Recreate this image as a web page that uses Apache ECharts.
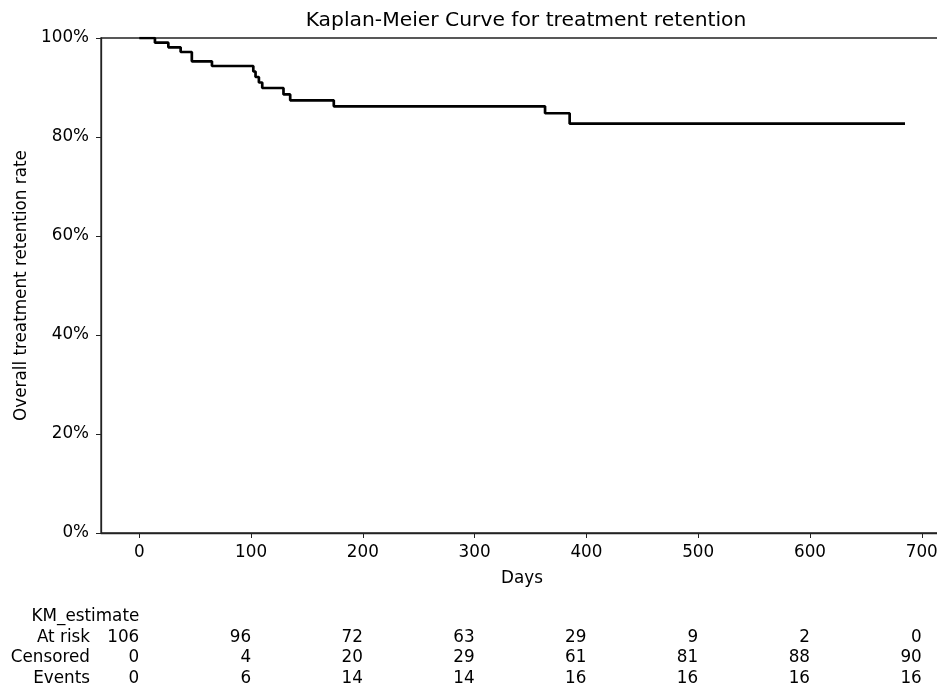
<!DOCTYPE html>
<html>
<head>
<meta charset="utf-8">
<script src="https://cdn.jsdelivr.net/npm/echarts@6/dist/echarts.min.js"></script>
<style>
  html, body { margin: 0; padding: 0; background: #fff; }
  #km { width: 937px; height: 690px; }
</style>
</head>
<body>
<div id="km"></div>
<script>
// KM step points (day, retention)
const days = [0, 14, 26, 37, 47, 65, 102, 104, 107, 110, 129, 135, 174, 363, 385, 685];
const survival = [1.0, 0.9906, 0.9811, 0.9717, 0.9528, 0.9434, 0.9323, 0.9212, 0.9101, 0.899, 0.886, 0.874, 0.862, 0.848, 0.827, 0.827];

// at-risk table under the axis
const tableTicks = [0, 100, 200, 300, 400, 500, 600, 700];
const atRisk = [106, 96, 72, 63, 29, 9, 2, 0];
const censored = [0, 4, 20, 29, 61, 81, 88, 90];
const events = [0, 6, 14, 14, 16, 16, 16, 16];
const rowLabels = ['At risk', 'Censored', 'Events'];

const font = 'DejaVu Sans';
const fs = 16.8;
const rowH = 20.8;
const chart = echarts.init(document.getElementById('km'));

const xMin = -34.25, xMax = 719;

chart.setOption({
  backgroundColor: '#fff',
  animation: false,
  textStyle: { fontFamily: font },
  title: {
    text: 'Kaplan-Meier Curve for treatment retention',
    left: 521,
    top: 6,
    textAlign: 'center',
    textStyle: { fontFamily: font, fontSize: 20.3, fontWeight: 'normal', color: '#000' }
  },
  // plot box runs past the right edge of the picture, like the reference
  grid: {
    left: 101, top: 38, width: 842, height: 495,
    outerBoundsMode: 'none', containLabel: false,
    show: true, borderColor: '#222', borderWidth: 1.3, backgroundColor: 'transparent'
  },
  xAxis: [
    {
      type: 'value', min: xMin, max: xMax,
      name: 'Days', nameLocation: 'middle', nameGap: 37,
      nameTextStyle: { fontFamily: font, fontSize: fs, color: '#000' },
      splitLine: { show: false },
      axisLine: { show: true, onZero: false, lineStyle: { color: '#222', width: 1.3 } },
      axisTick: { show: true, inside: false, length: 5, customValues: tableTicks, lineStyle: { color: '#222' } },
      axisLabel: {
        customValues: tableTicks, margin: 11, fontFamily: font, fontSize: fs, color: '#000',
        formatter: v => String(v)
      }
    },
    {
      // table rows, right-aligned at each tick
      type: 'value', min: xMin, max: xMax, position: 'bottom', offset: 73,
      splitLine: { show: false },
      axisLine: { show: false },
      axisTick: { show: false },
      axisLabel: {
        customValues: tableTicks, margin: 0, align: 'right', verticalAlign: 'top',
        fontFamily: font, fontSize: fs, color: '#000', lineHeight: rowH, hideOverlap: false,
        formatter: v => {
          const i = tableTicks.indexOf(v);
          return (i === 0 ? 'KM_estimate' : ' ') + '\n' + atRisk[i] + '\n' + censored[i] + '\n' + events[i];
        }
      }
    }
  ],
  yAxis: {
    type: 'value', min: 0, max: 1, interval: 0.2,
    name: 'Overall treatment retention rate', nameLocation: 'middle', nameGap: 68,
    nameTextStyle: { fontFamily: font, fontSize: fs, color: '#000' },
    splitLine: { show: false },
    axisLine: { show: true, onZero: false, lineStyle: { color: '#222', width: 1.3 } },
    axisTick: { show: true, length: 5, lineStyle: { color: '#222' } },
    axisLabel: {
      margin: 12, fontFamily: font, fontSize: fs, color: '#000',
      formatter: v => Math.round(v * 100) + '%'
    }
  },
  graphic: [{
    type: 'text', x: 90, y: 606 + rowH,
    style: {
      text: rowLabels.join('\n'), align: 'right', verticalAlign: 'top',
      font: fs + 'px "DejaVu Sans"', lineHeight: rowH, fill: '#000'
    }
  }],
  series: [{
    type: 'line',
    xAxisIndex: 0,
    step: 'end',
    showSymbol: false,
    data: days.map((d, i) => [d, survival[i]]),
    lineStyle: { color: '#000', width: 2.7 }
  }]
});
</script>
</body>
</html>
